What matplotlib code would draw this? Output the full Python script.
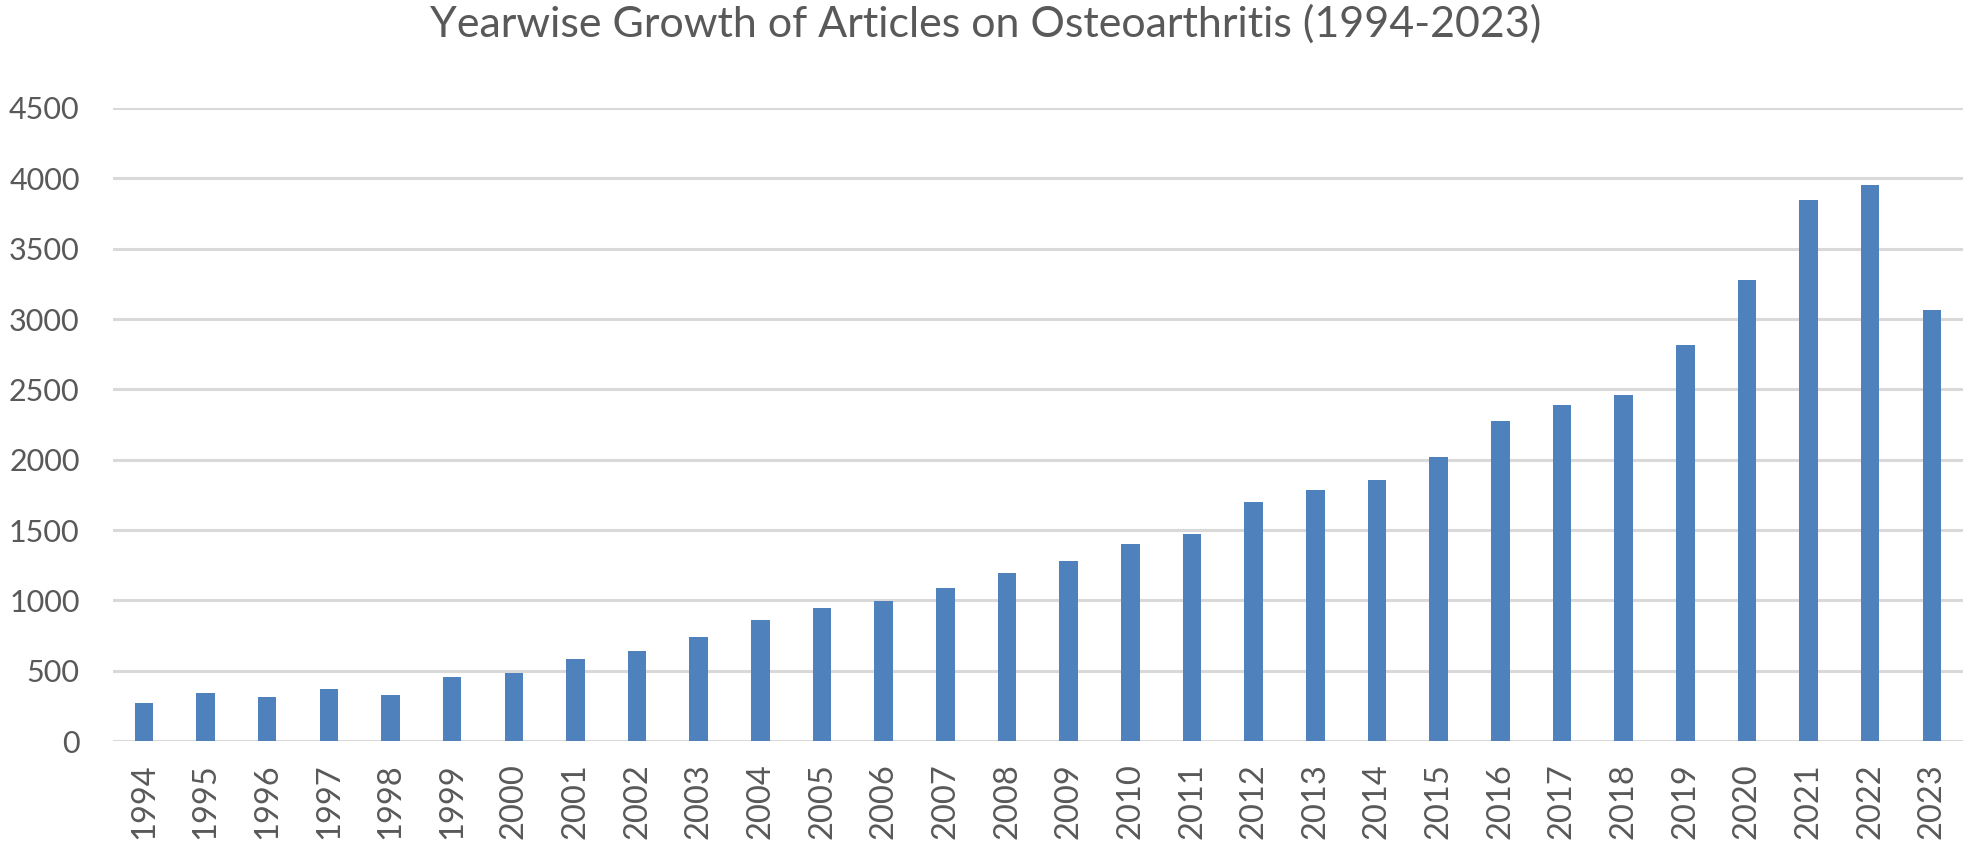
import matplotlib
matplotlib.use("Agg")
import matplotlib.pyplot as plt

# Yearly article counts
years = [str(y) for y in range(1994, 2024)]
articles = [268, 340, 311, 368, 328, 456, 484, 583, 640, 742,
            858, 944, 998, 1086, 1198, 1284, 1401, 1473, 1701, 1788,
            1859, 2017, 2273, 2390, 2459, 2817, 3275, 3849, 3951, 3061]
y_ticks = [0, 500, 1000, 1500, 2000, 2500, 3000, 3500, 4000, 4500]

plt.rcParams['font.family'] = ['Lato', 'DejaVu Sans']
text_grey = '#595959'

fig = plt.figure(figsize=(19.72, 8.5), dpi=100)
ax = fig.add_axes([0.0573, 0.128, 0.938, 0.745])

ax.bar(range(len(years)), articles, width=0.30, color='#4F81BD', zorder=3)

ax.set_xlim(-0.5, len(years) - 0.5)
ax.set_ylim(0, 4500)
ax.set_yticks(y_ticks)
ax.set_xticks(range(len(years)))
ax.set_xticklabels(years, rotation=90)

ax.grid(axis='y', color='#D9D9D9', linewidth=2.2, zorder=0)
ax.set_axisbelow(True)
for side in ['top', 'right', 'left', 'bottom']:
    ax.spines[side].set_visible(False)
ax.tick_params(axis='both', length=0, colors=text_grey)
ax.tick_params(axis='y', pad=24, labelsize=22)
ax.tick_params(axis='x', pad=16, labelsize=23.5)

fig.suptitle('Yearwise Growth of Articles on Osteoarthritis (1994-2023)',
             fontsize=31, color=text_grey, y=0.995, va='top')

fig.savefig('out.png', dpi=100)
